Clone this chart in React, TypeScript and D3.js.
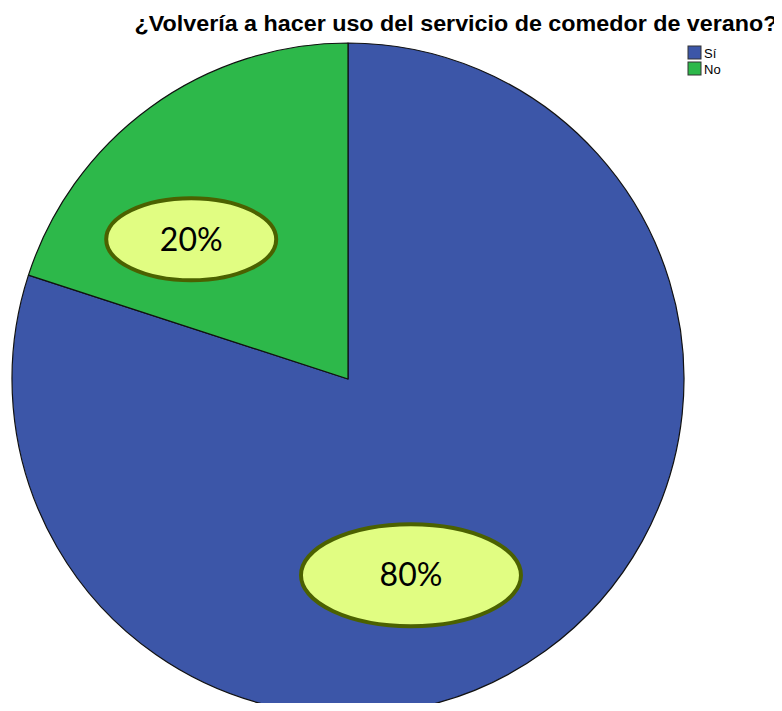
import React, { useEffect, useRef } from "react";
import * as d3 from "d3";

// Chart data
const categories = ["Sí", "No"];
const values = [80, 20];
const labels = ["80%", "20%"];
const colors = ["#3c56a8", "#2db84a"];

const title = "¿Volvería a hacer uso del servicio de comedor de verano?";

const App = () => {
  const svgRef = useRef<SVGSVGElement>(null);

  useEffect(() => {
    const width = 782;
    const height = 711;
    const cx = 348;
    const cy = 379;
    const radius = 336;

    const root = d3.select(svgRef.current);
    root.selectAll("*").remove();
    root.attr("width", width).attr("height", height);

    root
      .append("rect")
      .attr("width", width)
      .attr("height", height)
      .attr("fill", "#ffffff");

    // Title
    root
      .append("text")
      .attr("x", 456)
      .attr("y", 31)
      .attr("text-anchor", "middle")
      .attr("textLength", 643)
      .attr("lengthAdjust", "spacingAndGlyphs")
      .style("font-family", "'Liberation Sans', Arial, sans-serif")
      .style("font-weight", "bold")
      .style("font-size", "22px")
      .style("fill", "#000")
      .text(title);

    const g = root.append("g").attr("transform", `translate(${cx}, ${cy})`);

    const pie = d3
      .pie<number>()
      .value((d) => d)
      .sort(null)
      .startAngle(0)
      .endAngle(2 * Math.PI);
    const arc = d3.arc<d3.PieArcDatum<number>>().innerRadius(0).outerRadius(radius);

    const slices = pie(values);

    g.selectAll("path.slice")
      .data(slices)
      .enter()
      .append("path")
      .attr("class", "slice")
      .attr("d", arc)
      .attr("fill", (_, i) => colors[i])
      .attr("stroke", "#111")
      .attr("stroke-width", 1.2)
      .attr("stroke-linejoin", "round");

    // Callout labels: manually placed ellipses (polar position from pie centre)
    const labelPos = [
      { angle: 162.2, r: 206, rx: 110, ry: 51 },
      { angle: -48.3, r: 210, rx: 85, ry: 41 },
    ];

    slices.forEach((s, i) => {
      const p = labelPos[i];
      const [x, y] = d3.pointRadial((p.angle * Math.PI) / 180, p.r);
      g.append("ellipse")
        .attr("cx", x)
        .attr("cy", y)
        .attr("rx", p.rx)
        .attr("ry", p.ry)
        .attr("fill", "#e1fd82")
        .attr("stroke", "#4b6100")
        .attr("stroke-width", 4);
      g.append("text")
        .attr("x", x)
        .attr("y", y)
        .attr("dy", "0.35em")
        .attr("text-anchor", "middle")
        .style("font-family", "Lato, 'Open Sans', sans-serif")
        .style("font-size", "32px")
        .style("fill", "#000")
        .text(labels[i]);
    });

    // Legend
    const legend = root.append("g").attr("transform", "translate(688, 46)");
    categories.forEach((c, i) => {
      const row = legend.append("g").attr("transform", `translate(0, ${i * 16})`);
      row
        .append("rect")
        .attr("width", 13)
        .attr("height", 13)
        .attr("fill", colors[i])
        .attr("stroke", "#333")
        .attr("stroke-width", 1);
      row
        .append("text")
        .attr("x", 16)
        .attr("y", 11.5)
        .style("font-family", "'Liberation Sans Narrow', 'Liberation Sans', Arial, sans-serif")
        .style("font-size", "13px")
        .style("fill", "#000")
        .text(c);
    });
  }, []);

  return (
    <div style={{ margin: -8 }}>
      <svg ref={svgRef} style={{ display: "block" }}></svg>
    </div>
  );
};

export default App;
